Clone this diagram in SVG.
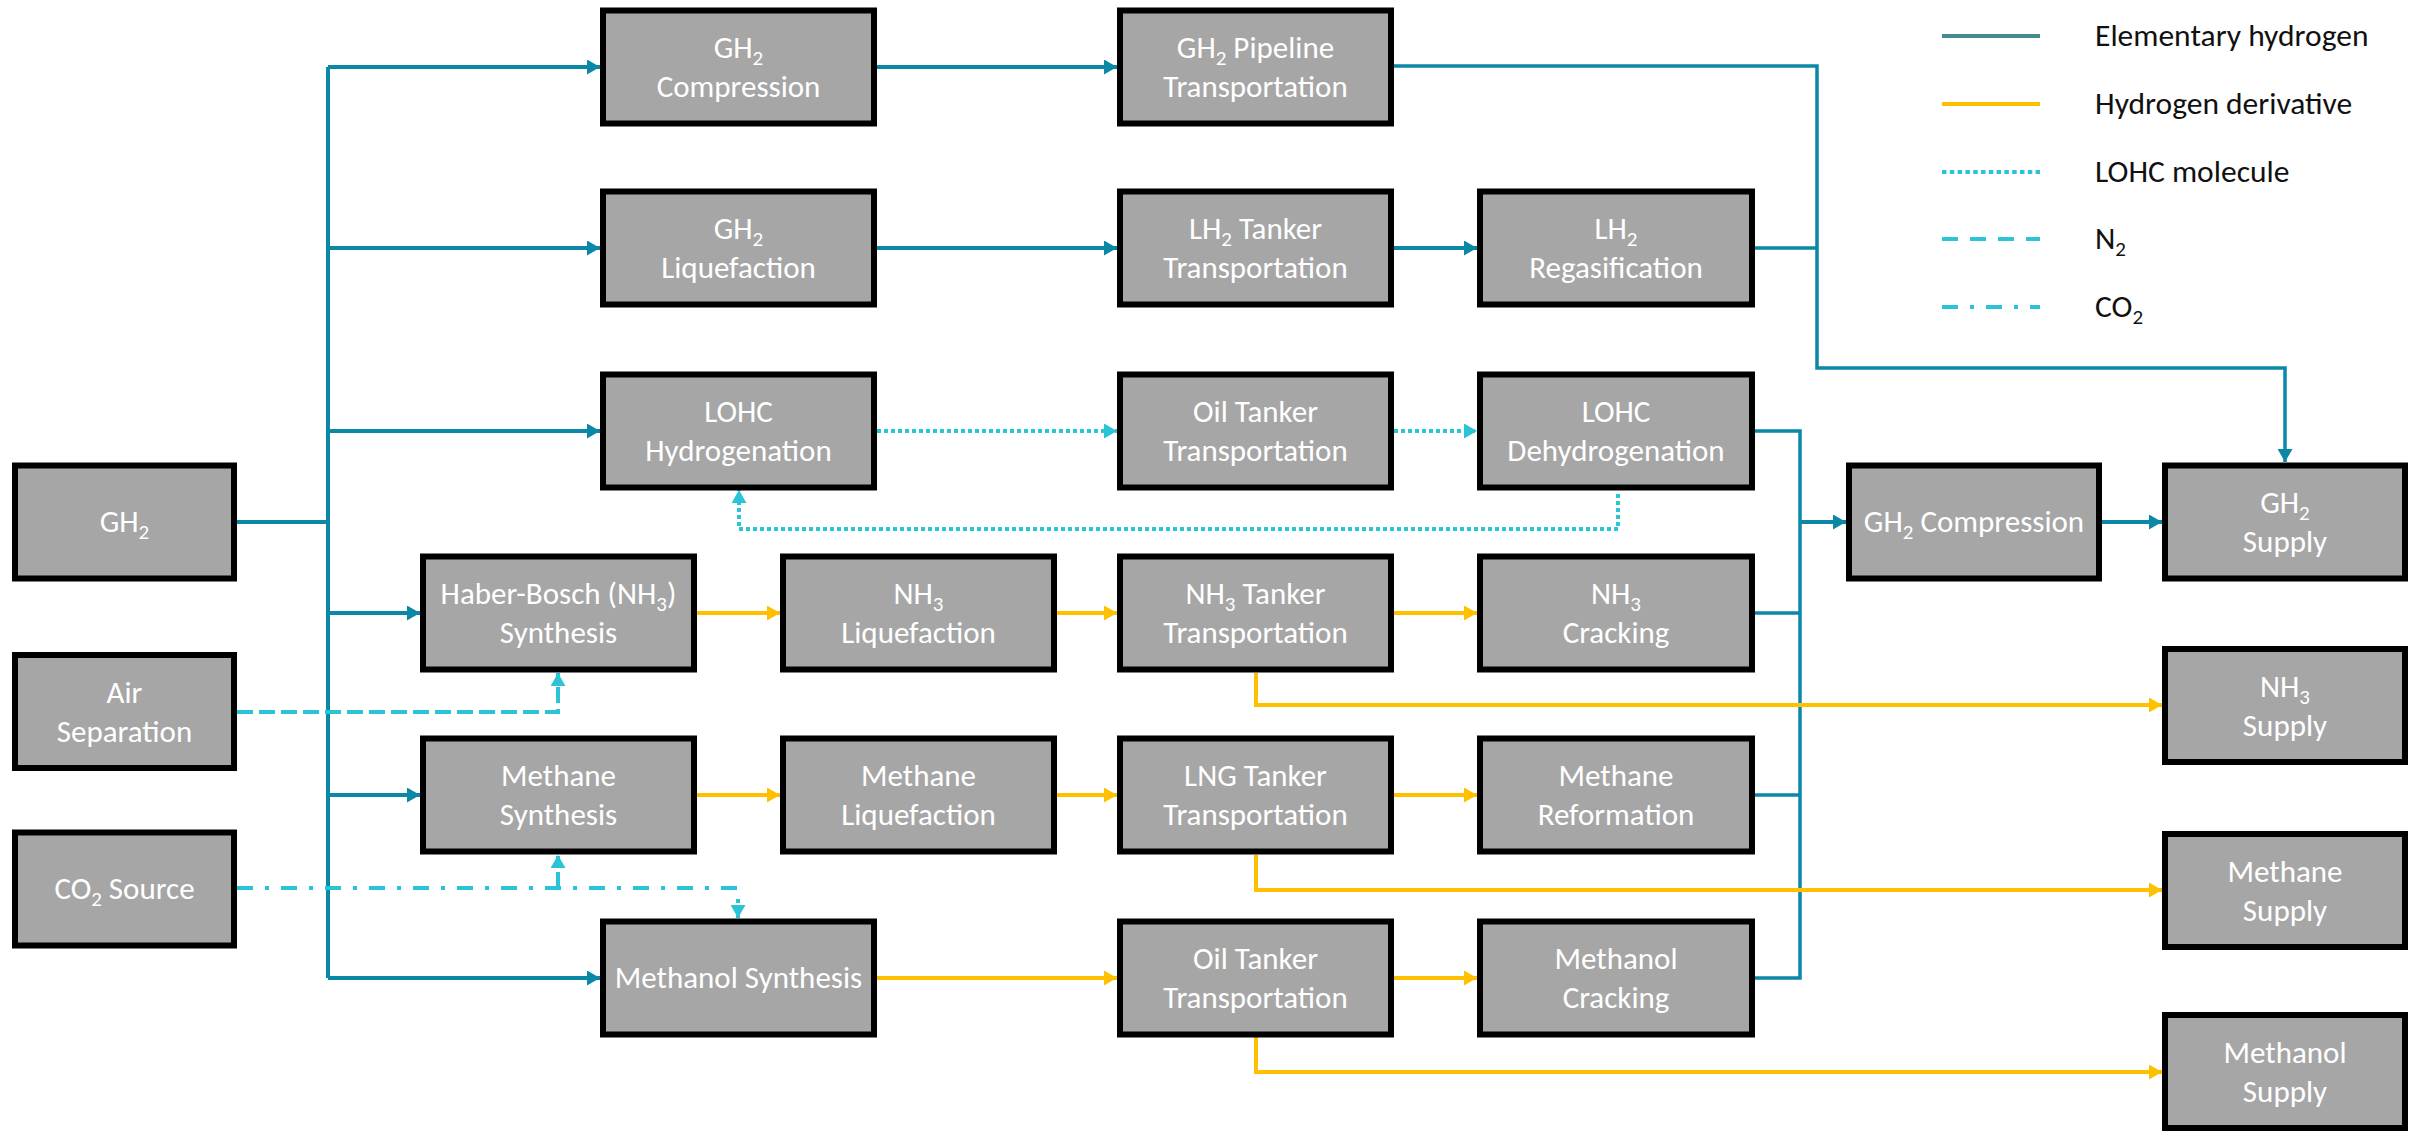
<svg xmlns="http://www.w3.org/2000/svg" width="2417" height="1132" viewBox="0 0 2417 1132">
<style>
.box rect{fill:#a6a6a6;stroke:#000;stroke-width:6}
.box text{fill:#fff;font-family:Carlito,Lato,"Liberation Sans",sans-serif;font-size:31px;text-anchor:middle}
.sub{font-size:21px}
.leg text{fill:#111;font-family:Carlito,Lato,"Liberation Sans",sans-serif;font-size:31.5px}
.h2{stroke:#0a88a6;stroke-width:4;fill:none}
.h2r{stroke:#0a88a6;stroke-width:3.5;fill:none}
.der{stroke:#ffc000;stroke-width:4;fill:none}
.lohc{stroke:#2bc4d6;stroke-width:4;fill:none;stroke-dasharray:4 3}
.n2{stroke:#2bc4d6;stroke-width:4;fill:none;stroke-dasharray:16 6}
.co2{stroke:#2bc4d6;stroke-width:4;fill:none;stroke-dasharray:16 12 4 12}
</style>
<defs>
<marker id="ab" markerUnits="userSpaceOnUse" viewBox="0 0 13 15" refX="13" refY="7.5" markerWidth="13" markerHeight="15" orient="auto"><path d="M0,0 L13,7.5 L0,15 Z" fill="#0a88a6"/></marker>
<marker id="ay" markerUnits="userSpaceOnUse" viewBox="0 0 13 15" refX="13" refY="7.5" markerWidth="13" markerHeight="15" orient="auto"><path d="M0,0 L13,7.5 L0,15 Z" fill="#ffc000"/></marker>
<marker id="ac" markerUnits="userSpaceOnUse" viewBox="0 0 13 15" refX="13" refY="7.5" markerWidth="13" markerHeight="15" orient="auto"><path d="M0,0 L13,7.5 L0,15 Z" fill="#2bc4d6"/></marker>
</defs>
<rect width="2417" height="1132" fill="#fff"/>

<g id="connectors">
<path class="h2" d="M237,522 H328"/>
<path class="h2" d="M328,67 V978"/>
<path class="h2" d="M328,67 H600" marker-end="url(#ab)"/>
<path class="h2" d="M328,248 H600" marker-end="url(#ab)"/>
<path class="h2" d="M328,431 H600" marker-end="url(#ab)"/>
<path class="h2" d="M328,613 H420" marker-end="url(#ab)"/>
<path class="h2" d="M328,795 H420" marker-end="url(#ab)"/>
<path class="h2" d="M328,978 H600" marker-end="url(#ab)"/>
<path class="h2" d="M877,67 H1117" marker-end="url(#ab)"/>
<path class="h2" d="M877,248 H1117" marker-end="url(#ab)"/>
<path class="h2" d="M1394,248 H1477" marker-end="url(#ab)"/>
<path class="h2r" d="M1394,66 H1817 V368 H2285 V462" marker-end="url(#ab)"/>
<path class="h2r" d="M1755,248 H1817"/>
<path class="h2r" d="M1755,431 H1800 V978 H1755"/>
<path class="h2r" d="M1755,613 H1800"/>
<path class="h2r" d="M1755,795 H1800"/>
<path class="h2" d="M1800,522 H1846" marker-end="url(#ab)"/>
<path class="h2" d="M2102,522 H2162" marker-end="url(#ab)"/>
<path class="der" d="M697,613 H780" marker-end="url(#ay)"/>
<path class="der" d="M1057,613 H1117" marker-end="url(#ay)"/>
<path class="der" d="M1394,613 H1477" marker-end="url(#ay)"/>
<path class="der" d="M697,795 H780" marker-end="url(#ay)"/>
<path class="der" d="M1057,795 H1117" marker-end="url(#ay)"/>
<path class="der" d="M1394,795 H1477" marker-end="url(#ay)"/>
<path class="der" d="M877,978 H1117" marker-end="url(#ay)"/>
<path class="der" d="M1394,978 H1477" marker-end="url(#ay)"/>
<path class="der" d="M1256,673 V705 H2162" marker-end="url(#ay)"/>
<path class="der" d="M1256,855 V890 H2162" marker-end="url(#ay)"/>
<path class="der" d="M1256,1037 V1072 H2162" marker-end="url(#ay)"/>
<path class="lohc" d="M877,431 H1117" marker-end="url(#ac)"/>
<path class="lohc" d="M1394,431 H1477" marker-end="url(#ac)"/>
<path class="lohc" d="M1618,494 V529 H739 V490" marker-end="url(#ac)"/>
<path class="n2" d="M237,712 H558 V673" marker-end="url(#ac)"/>
<path class="co2" d="M237,888 H738 V918" marker-end="url(#ac)"/>
<path class="co2" d="M558,888 V855" marker-end="url(#ac)"/>
</g>

<g id="gh2-source" class="box"><rect x="15" y="465.5" width="219" height="113"/><text x="124.5" y="532">GH<tspan class="sub" dy="7">2</tspan></text></g>
<g id="air-separation" class="box"><rect x="15" y="655" width="219" height="113"/><text x="124.5" y="703">Air</text><text x="124.5" y="742">Separation</text></g>
<g id="co2-source" class="box"><rect x="15" y="832.5" width="219" height="113"/><text x="124.5" y="899">CO<tspan class="sub" dy="7">2</tspan><tspan dy="-7"> Source</tspan></text></g>

<g id="gh2-compression-1" class="box"><rect x="603" y="10.5" width="271" height="113"/><text x="738.5" y="58">GH<tspan class="sub" dy="7">2</tspan></text><text x="738.5" y="97">Compression</text></g>
<g id="gh2-liquefaction" class="box"><rect x="603" y="191.5" width="271" height="113"/><text x="738.5" y="239">GH<tspan class="sub" dy="7">2</tspan></text><text x="738.5" y="278">Liquefaction</text></g>
<g id="lohc-hydrogenation" class="box"><rect x="603" y="374.5" width="271" height="113"/><text x="738.5" y="422">LOHC</text><text x="738.5" y="461">Hydrogenation</text></g>
<g id="haber-bosch" class="box"><rect x="423" y="556.5" width="271" height="113"/><text x="558.5" y="604">Haber-Bosch (NH<tspan class="sub" dy="7">3</tspan><tspan dy="-7">)</tspan></text><text x="558.5" y="643">Synthesis</text></g>
<g id="methane-synthesis" class="box"><rect x="423" y="738.5" width="271" height="113"/><text x="558.5" y="786">Methane</text><text x="558.5" y="825">Synthesis</text></g>
<g id="methanol-synthesis" class="box"><rect x="603" y="921.5" width="271" height="113"/><text x="738.5" y="988">Methanol Synthesis</text></g>

<g id="nh3-liquefaction" class="box"><rect x="783" y="556.5" width="271" height="113"/><text x="918.5" y="604">NH<tspan class="sub" dy="7">3</tspan></text><text x="918.5" y="643">Liquefaction</text></g>
<g id="methane-liquefaction" class="box"><rect x="783" y="738.5" width="271" height="113"/><text x="918.5" y="786">Methane</text><text x="918.5" y="825">Liquefaction</text></g>

<g id="gh2-pipeline" class="box"><rect x="1120" y="10.5" width="271" height="113"/><text x="1255.5" y="58">GH<tspan class="sub" dy="7">2</tspan><tspan dy="-7"> Pipeline</tspan></text><text x="1255.5" y="97">Transportation</text></g>
<g id="lh2-tanker" class="box"><rect x="1120" y="191.5" width="271" height="113"/><text x="1255.5" y="239">LH<tspan class="sub" dy="7">2</tspan><tspan dy="-7"> Tanker</tspan></text><text x="1255.5" y="278">Transportation</text></g>
<g id="oil-tanker-lohc" class="box"><rect x="1120" y="374.5" width="271" height="113"/><text x="1255.5" y="422">Oil Tanker</text><text x="1255.5" y="461">Transportation</text></g>
<g id="nh3-tanker" class="box"><rect x="1120" y="556.5" width="271" height="113"/><text x="1255.5" y="604">NH<tspan class="sub" dy="7">3</tspan><tspan dy="-7"> Tanker</tspan></text><text x="1255.5" y="643">Transportation</text></g>
<g id="lng-tanker" class="box"><rect x="1120" y="738.5" width="271" height="113"/><text x="1255.5" y="786">LNG Tanker</text><text x="1255.5" y="825">Transportation</text></g>
<g id="oil-tanker-methanol" class="box"><rect x="1120" y="921.5" width="271" height="113"/><text x="1255.5" y="969">Oil Tanker</text><text x="1255.5" y="1008">Transportation</text></g>

<g id="lh2-regasification" class="box"><rect x="1480" y="191.5" width="272" height="113"/><text x="1616" y="239">LH<tspan class="sub" dy="7">2</tspan></text><text x="1616" y="278">Regasification</text></g>
<g id="lohc-dehydrogenation" class="box"><rect x="1480" y="374.5" width="272" height="113"/><text x="1616" y="422">LOHC</text><text x="1616" y="461">Dehydrogenation</text></g>
<g id="nh3-cracking" class="box"><rect x="1480" y="556.5" width="272" height="113"/><text x="1616" y="604">NH<tspan class="sub" dy="7">3</tspan></text><text x="1616" y="643">Cracking</text></g>
<g id="methane-reformation" class="box"><rect x="1480" y="738.5" width="272" height="113"/><text x="1616" y="786">Methane</text><text x="1616" y="825">Reformation</text></g>
<g id="methanol-cracking" class="box"><rect x="1480" y="921.5" width="272" height="113"/><text x="1616" y="969">Methanol</text><text x="1616" y="1008">Cracking</text></g>

<g id="gh2-compression-2" class="box"><rect x="1849" y="465.5" width="250" height="113"/><text x="1974" y="532">GH<tspan class="sub" dy="7">2</tspan><tspan dy="-7"> Compression</tspan></text></g>

<g id="gh2-supply" class="box"><rect x="2165" y="465.5" width="240" height="113"/><text x="2285" y="513">GH<tspan class="sub" dy="7">2</tspan></text><text x="2285" y="552">Supply</text></g>
<g id="nh3-supply" class="box"><rect x="2165" y="649" width="240" height="113"/><text x="2285" y="696.5">NH<tspan class="sub" dy="7">3</tspan></text><text x="2285" y="735.5">Supply</text></g>
<g id="methane-supply" class="box"><rect x="2165" y="834" width="240" height="113"/><text x="2285" y="881.5">Methane</text><text x="2285" y="920.5">Supply</text></g>
<g id="methanol-supply" class="box"><rect x="2165" y="1015" width="240" height="113"/><text x="2285" y="1062.5">Methanol</text><text x="2285" y="1101.5">Supply</text></g>

<g id="legend" class="leg">
<line x1="1942" y1="36" x2="2040" y2="36" stroke="#448b90" stroke-width="4"/>
<text x="2095" y="46">Elementary hydrogen</text>
<line x1="1942" y1="104" x2="2040" y2="104" stroke="#ffc000" stroke-width="4"/>
<text x="2095" y="114">Hydrogen derivative</text>
<line x1="1942" y1="172" x2="2040" y2="172" stroke="#2bc4d6" stroke-width="4" stroke-dasharray="4.5 3.3"/>
<text x="2095" y="182">LOHC molecule</text>
<line x1="1942" y1="239" x2="2040" y2="239" stroke="#2bc4d6" stroke-width="4" stroke-dasharray="16 12"/>
<text x="2095" y="249">N<tspan font-size="21" dy="7">2</tspan></text>
<line x1="1942" y1="307" x2="2040" y2="307" stroke="#2bc4d6" stroke-width="4" stroke-dasharray="16 12 4 12"/>
<text x="2095" y="317">CO<tspan font-size="21" dy="7">2</tspan></text>
</g>
</svg>
